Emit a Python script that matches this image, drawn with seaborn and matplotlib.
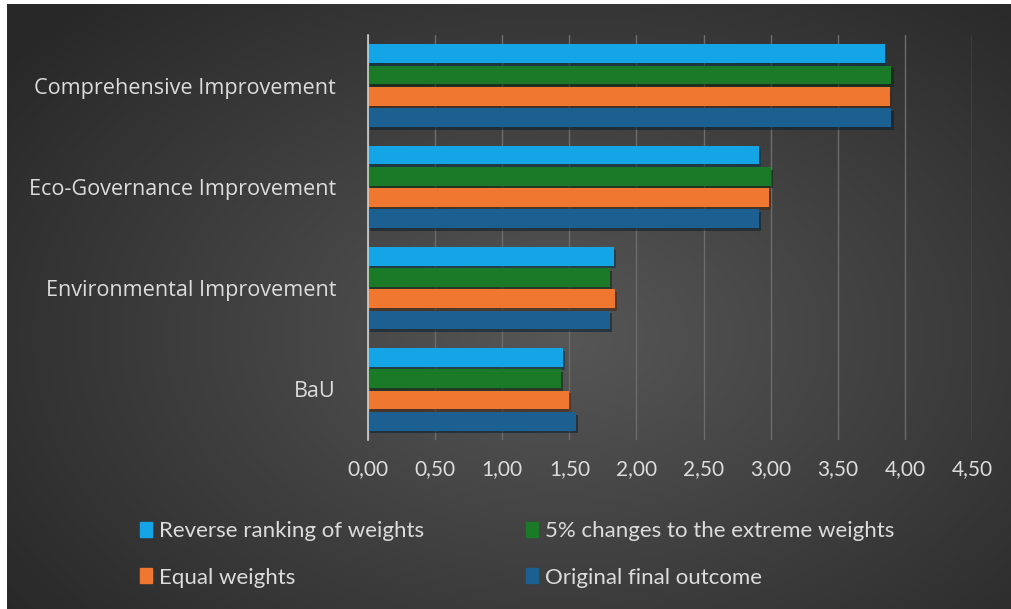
import matplotlib
matplotlib.use("Agg")
import matplotlib.pyplot as plt
import matplotlib.patheffects as pe
from matplotlib.patches import Patch
from matplotlib.ticker import FuncFormatter
import seaborn as sns
import numpy as np
import pandas as pd

#Scenarios (top to bottom) and series values
scenarios = ["Comprehensive Improvement", "Eco-Governance Improvement",
             "Environmental Improvement", "BaU"]
series = ["Reverse ranking of weights", "5% changes to the extreme weights",
          "Equal weights", "Original final outcome"]
reverse_ranking = [3.85, 2.91, 1.83, 1.45]
extreme_5pct = [3.90, 3.00, 1.80, 1.44]
equal_weights = [3.89, 2.99, 1.84, 1.50]
original_outcome = [3.90, 2.91, 1.80, 1.55]
colors = ["#14a5e6", "#1a7a28", "#f0772f", "#1b6090"]

values = [reverse_ranking, extreme_5pct, equal_weights, original_outcome]
rows = []
for name, vals in zip(series, values):
    for sc, v in zip(scenarios, vals):
        rows.append({"Scenario": sc, "Series": name, "Score": v})
df = pd.DataFrame(rows)

TEXT = "#dcdcdc"
NARROW = ["Lato", "DejaVu Sans"]
plt.rcParams["font.family"] = ["Open Sans", "DejaVu Sans"]

fig = plt.figure(figsize=(10.12, 6.09), dpi=100)
fig.patch.set_facecolor("white")

#Radial gradient background
bg = fig.add_axes([7 / 1012, 0, 1 - 7 / 1012, 1 - 4 / 609], zorder=-10)
yy, xx = np.mgrid[0:1:300j, 0:1:500j]
r = np.sqrt(((xx - 0.55) / 0.75) ** 2 + ((yy - 0.55) / 0.85) ** 2)
shade = np.clip(0.34 - 0.20 * r, 0.16, 0.34)
bg.imshow(np.dstack([shade] * 3), aspect="auto", extent=[0, 1, 0, 1],
          interpolation="bicubic")
bg.set_axis_off()

ax = fig.add_axes([368 / 1012, 169 / 609, 604 / 1012, 405 / 609])
ax.set_facecolor("none")
sns.barplot(data=df, y="Scenario", x="Score", hue="Series", orient="h",
            order=scenarios, hue_order=series, palette=colors,
            width=0.84, gap=0.12, ax=ax, legend=False, saturation=1)

for bar in ax.patches:
    bar.set_path_effects([pe.SimplePatchShadow(offset=(1.5, -2), alpha=0.55),
                          pe.Normal()])

ax.set_xlim(0, 4.5)
ax.set_xticks(np.arange(0, 4.51, 0.5))
ax.xaxis.set_major_formatter(FuncFormatter(lambda v, p: f"{v:.2f}".replace(".", ",")))
ax.grid(axis="x", color="#6c6c6c", linewidth=1)
ax.set_axisbelow(True)
for s in ["top", "right", "bottom"]:
    ax.spines[s].set_visible(False)
ax.spines["left"].set_color("#d0d0d0")
ax.spines["left"].set_linewidth(1.2)
ax.tick_params(axis="both", length=0, colors=TEXT)
ax.tick_params(axis="x", labelsize=15, pad=14)
ax.tick_params(axis="y", labelsize=15.6, pad=23)
for lbl in ax.get_xticklabels():
    lbl.set_family(NARROW)
ax.set_xlabel("")
ax.set_ylabel("")

#Legend filled column by column: Reverse/Equal, then 5%/Original
order = [0, 2, 1, 3]
handles = [Patch(color=colors[i], label=series[i]) for i in order]
leg = fig.legend(handles=handles, ncol=2, loc="upper left",
                 bbox_to_anchor=(120 / 1012, 1 - 501 / 609), frameon=False,
                 handlelength=0.55, handleheight=0.65,
                 handletextpad=0.3, columnspacing=4.6, labelspacing=1.2,
                 prop={"family": NARROW, "size": 16})
for t in leg.get_texts():
    t.set_color(TEXT)

fig.savefig("out.png", dpi=100)
plt.close(fig)
